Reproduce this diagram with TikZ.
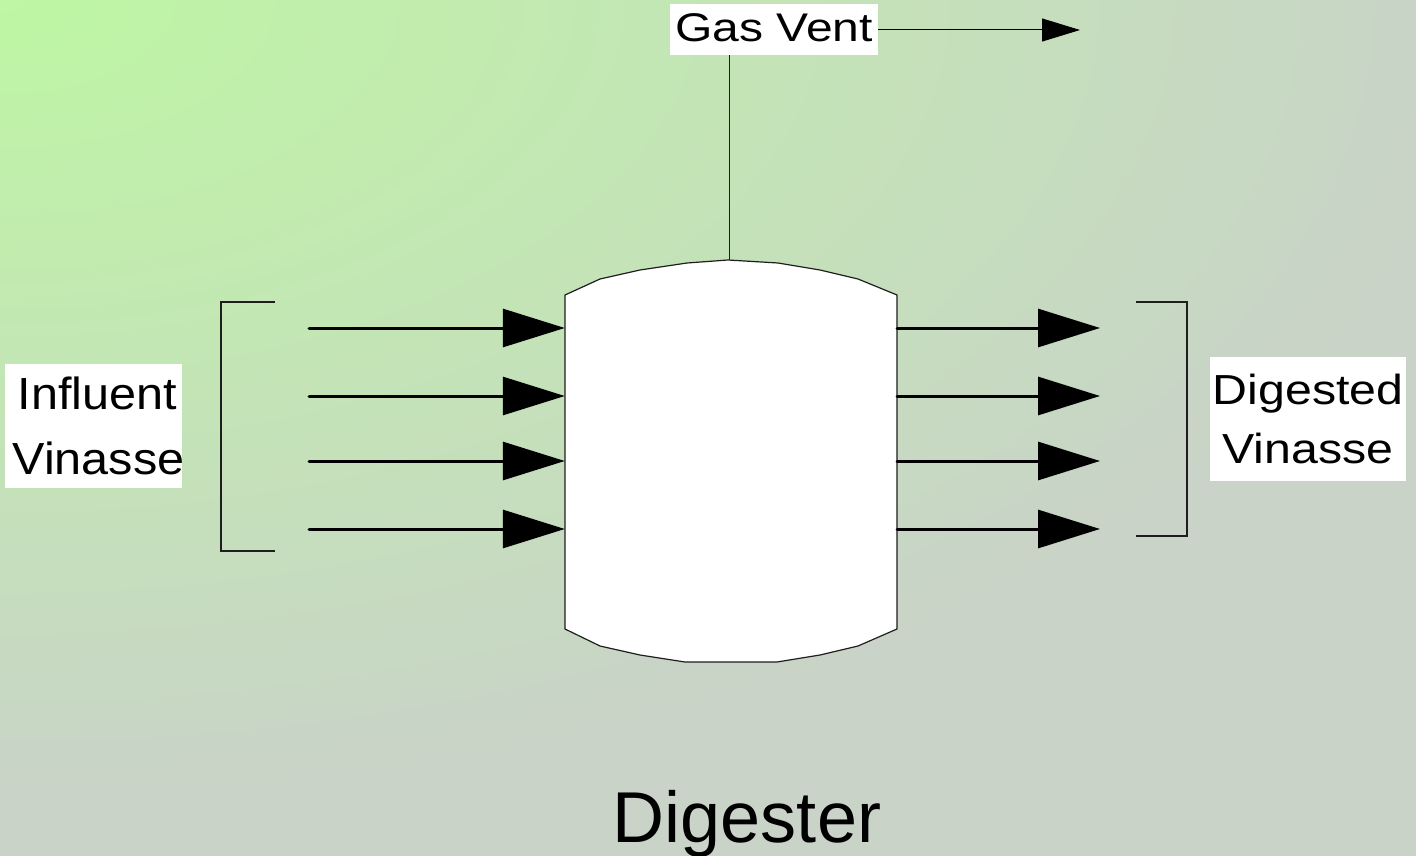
\documentclass[tikz,border=0pt]{standalone}
\usepackage{fontspec}
\setmainfont{Liberation Sans}
\usetikzlibrary{arrows.meta}
\definecolor{bgA}{RGB}{190,246,164}
\definecolor{bgB}{RGB}{201,211,200}
\definecolor{edge}{RGB}{30,30,30}
\tikzset{
  bigarrow/.style={line width=3pt, line cap=round, -{Triangle[length=62pt,width=38pt]}},
  ventarrow/.style={line width=1pt, -{Triangle[length=38pt,width=23pt]}},
  labelbox/.style={fill=white, inner ysep=0pt, inner xsep=1.5pt, align=center},
  bracketline/.style={line width=1.3pt, draw=edge},
}
\begin{document}
\begin{tikzpicture}[x=1pt,y=-1pt]
\useasboundingbox (0,0) rectangle (1416,856);
% background: elliptic gradient from the top-left corner
\begin{scope}
\clip (0,0) rectangle (1416,856);
\fill[bgB] (0,0) rectangle (1416,856);
\foreach \k in {60,59,...,1}{
  \pgfmathsetmacro{\mix}{(60-\k)*1.6949}
  \pgfmathsetmacro{\rx}{25*\k}
  \pgfmathsetmacro{\ry}{13.5*\k}
  \fill[bgA!\mix!bgB] (0,0) ellipse [x radius=\rx, y radius=\ry];
}
\end{scope}
% digester vessel
\draw[fill=white, draw=edge, line width=1.2pt, line join=round]
  (565,295) -- (600,279) -- (640,270) -- (687,263) -- (728,260) -- (778,263)
  -- (820,270) -- (858,279) -- (897,295) -- (897,629) -- (858,646) -- (820,655)
  -- (777,662) -- (685,662) -- (640,655) -- (600,646) -- (565,629) -- cycle;
\node (dig) [draw=none, inner sep=0pt, minimum width=332pt, minimum height=334pt] at (731,462) {};
\coordinate (top) at (729,260);
% gas vent
\node (gas) [fill=white, inner sep=0pt, minimum width=208pt, minimum height=51pt, text height=29pt, text depth=4pt,
  font=\fontsize{40}{48}\selectfont\addfontfeature{FakeStretch=1.2}] at (774,29.5) {Gas Vent};
\coordinate (ventend) at (1080,30);
\draw[line width=1pt, draw=edge] (top) -- (top |- gas.south);
\draw[ventarrow] (gas.east |- ventend) -- (ventend);
% influent and effluent arrows
\foreach \i/\y in {1/328, 2/396, 3/461, 4/529}{
  \coordinate (in\i) at (309,\y);
  \draw[bigarrow] (in\i) -- (in\i -| dig.west);
  \coordinate (out\i) at (1100,\y);
  \draw[bigarrow] (out\i -| dig.east) -- (out\i);
}
% brackets
\draw[bracketline] (275,302) -- (221,302) -- (221,551) -- (275,551);
\draw[bracketline] (1136,302) -- (1187,302) -- (1187,536) -- (1136,536);
% labels
\node (infl) [labelbox, text width=174pt, minimum height=124pt,
  font=\fontsize{45}{65}\selectfont\addfontfeature{FakeStretch=1.08}] at (93.5,426)
  {\hspace*{8pt}Influent\\\hspace*{6pt}Vinasse};
\node (dige) [labelbox, text width=193pt, minimum height=124pt,
  font=\fontsize{42}{59}\selectfont\addfontfeature{FakeStretch=1.15}] at (1308,419) {Digested\\Vinasse};
\node (title) [anchor=base, inner sep=0pt, font=\fontsize{72}{86}\selectfont] at (747,842) {Digester};
\end{tikzpicture}
\end{document}
